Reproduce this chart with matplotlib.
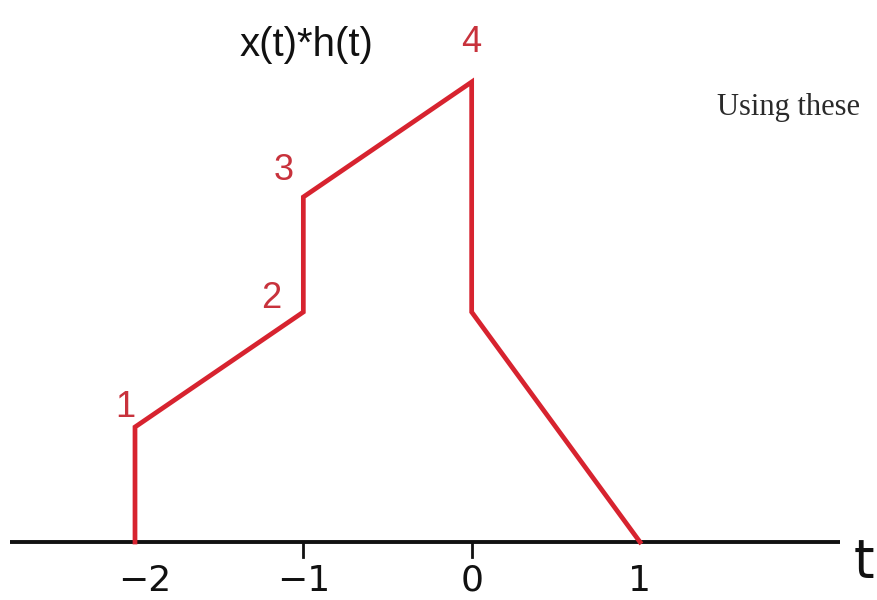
import matplotlib.pyplot as plt

# convolution result y(t) = x(t)*h(t), piecewise linear with jumps
t = [-2, -2, -1, -1, 0, 0, 1]
y = [0, 1, 2, 3, 4, 2, 0]

# labelled corners and where the label sits (pixel offset from the corner)
corner_t = [-2, -1, -1, 0]
corner_y = [1, 2, 3, 4]
label_off = [(-10, 20), (-32, 14), (-20, 27), (0, 40)]

tick_pos = [-2, -1, 0, 1]
tick_lab = ['\u22122', '\u22121', '0', '1']

red = '#d7232f'

fig = plt.figure(figsize=(8.77, 6.0), dpi=100)
ax = fig.add_axes([0, 0, 1, 1])
ax.set_xlim(-2.802, 2.408)
ax.set_ylim(-0.504, 4.713)
ax.axis('off')

# time axis
ax.plot([-2.743, 2.188], [0, 0], color='#111111', lw=2.8, solid_capstyle='butt', zorder=1)
for p in [-1, 0]:
    ax.plot([p, p], [0, -0.13], color='#111111', lw=2.0, zorder=1)
for p, s in zip(tick_pos, tick_lab):
    ax.text(p + 0.06 * (p == -2), -0.335, s, fontsize=26, ha='center', va='center',
            color='#111111')
ax.text(2.33, -0.17, 't', fontsize=38, ha='center', va='center', color='#111111')

ax.plot(t, y, color=red, lw=3.4, solid_joinstyle='miter', zorder=3)

for ct, cy, off in zip(corner_t, corner_y, label_off):
    ax.annotate(str(cy), (ct, cy), xytext=off, textcoords='offset pixels',
                ha='center', va='center', fontsize=26, color='#c8323c',
                family='Liberation Sans')

fig.text(306 / 877, 1 - 45 / 600, 'x(t)*h(t)', fontsize=29, ha='center', va='center',
         family='Liberation Sans', color='#111111')
fig.text(717 / 877, 1 - 107 / 600, 'Using these', fontsize=22, ha='left', va='center',
         family='Liberation Serif', color='#2a2a2a')

fig.savefig('out.png', dpi=100)
